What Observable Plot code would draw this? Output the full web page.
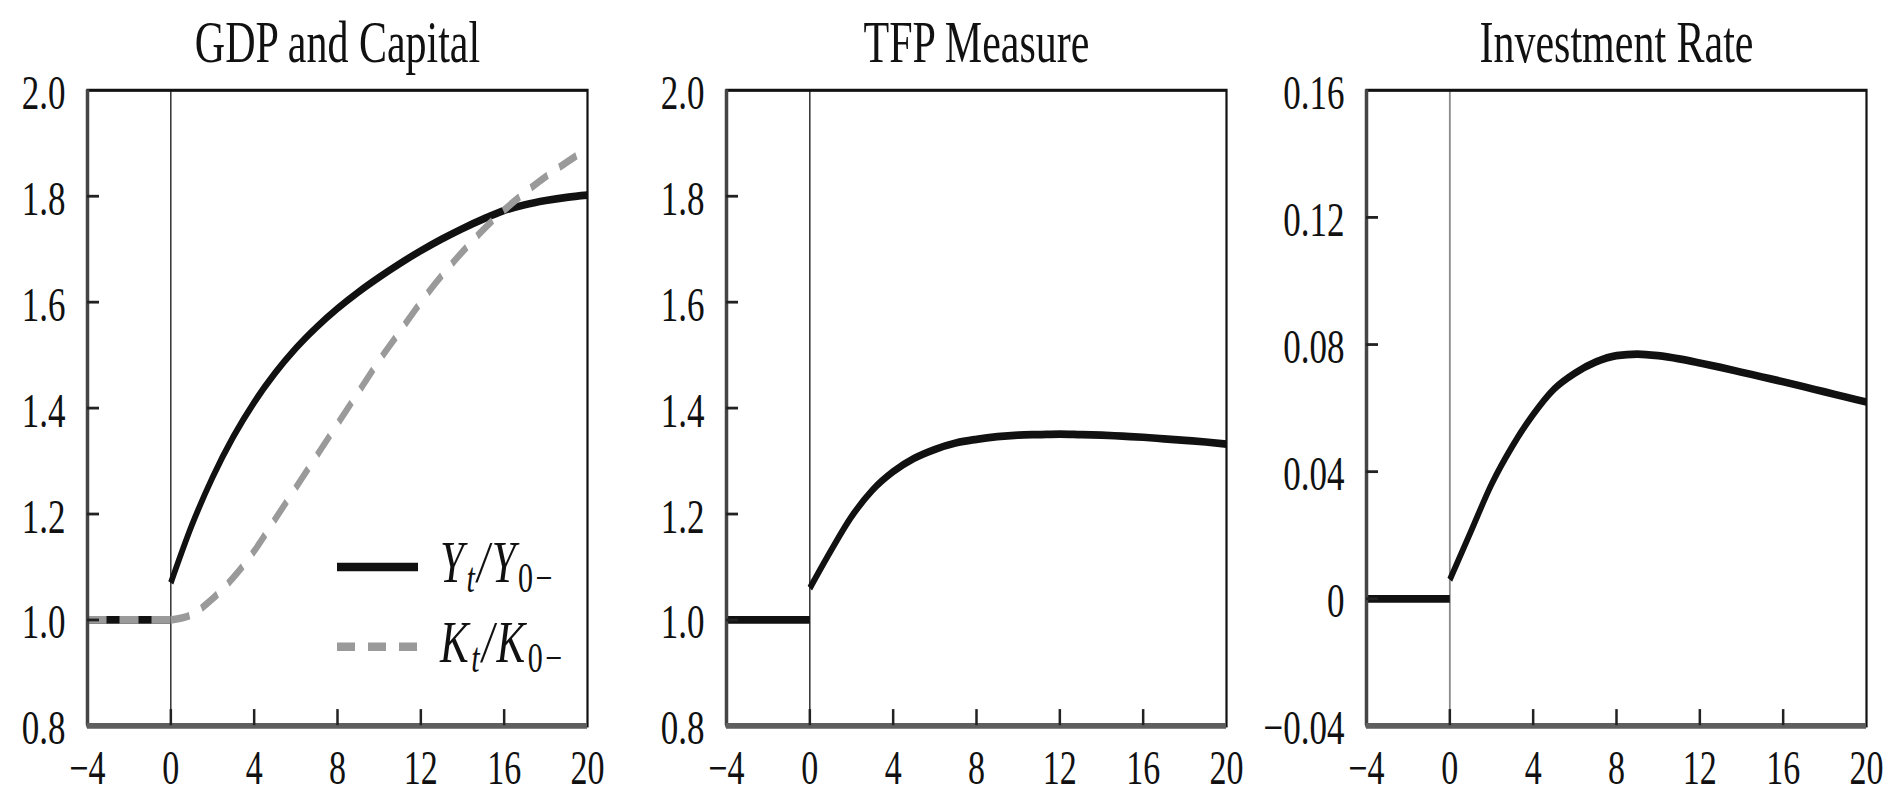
<!DOCTYPE html>
<html><head><meta charset="utf-8">
<script src="https://cdn.jsdelivr.net/npm/d3@7"></script>
<script src="https://cdn.jsdelivr.net/npm/@observablehq/plot@0.6"></script>
<style>
html,body{margin:0;padding:0;background:#fff;}
#wrap{position:relative;width:1889px;height:795px;overflow:hidden;background:#fff;}
.panel{position:absolute;top:0;transform:scaleY(1.4);transform-origin:0 0;}
</style></head><body><div id="wrap"></div>
<script>
// ---- data ----
const periods = [0,1,2,3,4,5,6,7,8,9,10,11,12,13,14,15,16,17,18,19,20];
const prePeriods = [-4, 0];
const gdp = [1.07,1.178,1.269,1.346,1.411,1.466,1.513,1.553,1.588,1.619,1.647,1.673,1.697,1.719,1.739,1.757,1.773,1.784,1.792,1.798,1.802];
const capital = [1.00,1.01,1.04,1.08,1.13,1.19,1.25,1.31,1.37,1.43,1.49,1.545,1.60,1.65,1.695,1.737,1.774,1.807,1.837,1.864,1.89];
const tfp = [1.06,1.13,1.195,1.245,1.28,1.305,1.322,1.334,1.341,1.346,1.349,1.35,1.351,1.35,1.349,1.347,1.345,1.342,1.339,1.336,1.332];
const invest = [0.006,0.021,0.036,0.048,0.058,0.066,0.071,0.0745,0.0765,0.077,0.0765,0.0755,0.0742,0.0728,0.0713,0.0698,0.0683,0.0667,0.0651,0.0635,0.0619];
const preGdp = [1, 1];
const preCapital = [1, 1];
const preTfp = [1, 1];
const preInvest = [0, 0];
const xTicks = [-4, 0, 4, 8, 12, 16, 20];
const xInnerTicks = [0, 4, 8, 12, 16];
const levelTicks = [0.8, 1.0, 1.2, 1.4, 1.6, 1.8, 2.0];
const rateTicks = [-0.04, 0, 0.04, 0.08, 0.12, 0.16];
const titles = ["GDP and Capital", "TFP Measure", "Investment Rate"];
const legendLabels = [["Y","t","Y","0−"], ["K","t","K","0−"]];

// ---- helpers ----
const minus = s => s.replace("-", "\u2212");
const fmtX = d => minus(String(d));
const fmtLevel = d => d.toFixed(1);
const fmtRate = d => d === 0 ? "0" : minus(d.toFixed(2));
const rows = (xs, ys) => xs.map((x, i) => ({x, y: ys[i]}));

const PLOT_H = 568, MT = 64, MB = 50, FRAME_W = 500;
const innerH = PLOT_H - MT - MB;
const BLACK = "#111", GRAY = "#9a9a9a";
const FONT = "'Liberation Serif', 'DejaVu Serif', serif";

function panel({left, marginLeft, width, yTicks, fmt, title, series, zeroColor, zeroWidth}) {
  const lineMarks = [];
  for (const s of series) {
    lineMarks.push(Plot.line(rows(prePeriods, s.pre), {x: "x", y: "y", stroke: s.color, strokeWidth: 5.5, strokeDasharray: s.dash, strokeLinecap: "butt"}));
    lineMarks.push(Plot.line(rows(periods, s.post), {x: "x", y: "y", stroke: s.color, strokeWidth: 5.5, strokeDasharray: s.dash, curve: "monotone-x", strokeLinecap: "butt"}));
  }
  const plot = Plot.plot({
    width, height: PLOT_H,
    marginLeft, marginRight: width - marginLeft - FRAME_W, marginTop: MT, marginBottom: MB,
    style: {fontFamily: FONT, background: "white", color: BLACK, overflow: "visible"},
    x: {domain: [xTicks[0], xTicks[xTicks.length - 1]]},
    y: {domain: [yTicks[0], yTicks[yTicks.length - 1]]},
    marks: [
      Plot.ruleX([0], {stroke: zeroColor, strokeWidth: zeroWidth}),
      ...lineMarks,
      Plot.frame({stroke: BLACK, strokeWidth: 2.2}),
      Plot.ruleX([xTicks[0]], {stroke: "#454545", strokeWidth: 3.5}),
      Plot.ruleY([yTicks[0]], {stroke: "#5e5e5e", strokeWidth: 4}),
      Plot.ruleX(xInnerTicks, {stroke: "#222", strokeWidth: 2.5, insetTop: innerH - 11.5}),
      Plot.ruleY(yTicks.slice(1, -1), {stroke: "#222", strokeWidth: 2, insetRight: FRAME_W - 12}),
      Plot.axisX({ticks: xTicks, tickFormat: fmtX, tickSize: 0, tickPadding: 17, fontSize: 34, fill: BLACK, label: null}),
      Plot.axisY({ticks: yTicks, tickFormat: fmt, tickSize: 0, tickPadding: 22, fontSize: 35, fill: BLACK, dy: 2, label: null}),
      Plot.text([title], {text: d => d, frameAnchor: "top", lineAnchor: "bottom", dy: -20, fontSize: 42, fill: BLACK})
    ]
  });
  plot.classList.add("panel");
  plot.style.left = left + "px";
  document.getElementById("wrap").appendChild(plot);
  return plot;
}

const p1 = panel({
  left: 0, marginLeft: 87, width: 639, yTicks: levelTicks, fmt: fmtLevel, title: titles[0],
  zeroColor: BLACK, zeroWidth: 1.3,
  series: [
    {pre: preGdp, post: gdp, color: BLACK, dash: null},
    {pre: preCapital, post: capital, color: GRAY, dash: "19,13"}
  ]
});
panel({
  left: 639, marginLeft: 87, width: 620, yTicks: levelTicks, fmt: fmtLevel, title: titles[1],
  zeroColor: BLACK, zeroWidth: 1.3,
  series: [{pre: preTfp, post: tfp, color: BLACK, dash: null}]
});
panel({
  left: 1259, marginLeft: 107, width: 630, yTicks: rateTicks, fmt: fmtRate, title: titles[2],
  zeroColor: "#8a8a8a", zeroWidth: 1.8,
  series: [{pre: preInvest, post: invest, color: BLACK, dash: null}]
});

// ---- legend (panel 1) ----
const svg = d3.select(p1);
const leg = svg.append("g").attr("font-family", FONT).attr("fill", BLACK).attr("text-anchor", "start");
const legendStyles = [{color: BLACK, dash: null}, {color: GRAY, dash: "18,13"}];
legendLabels.forEach((lab, i) => {
  const yLine = i === 0 ? 405 : 462;
  leg.append("line").attr("x1", 337).attr("x2", 418).attr("y1", yLine).attr("y2", yLine)
    .attr("stroke", legendStyles[i].color).attr("stroke-width", 6).attr("stroke-dasharray", legendStyles[i].dash);
  const t = leg.append("text").attr("x", 440).attr("y", yLine + 11).attr("font-size", 43)
    .attr("text-anchor", "start").attr("letter-spacing", 2.5);
  t.append("tspan").attr("font-style", "italic").text(lab[0]);
  t.append("tspan").attr("font-style", "italic").attr("font-size", 30).attr("dy", 7).text(lab[1]);
  t.append("tspan").attr("font-style", "italic").attr("dy", -7).text("/" + lab[2]);
  t.append("tspan").attr("font-size", 30).attr("dy", 7).text(lab[3]);
});
</script></body></html>
